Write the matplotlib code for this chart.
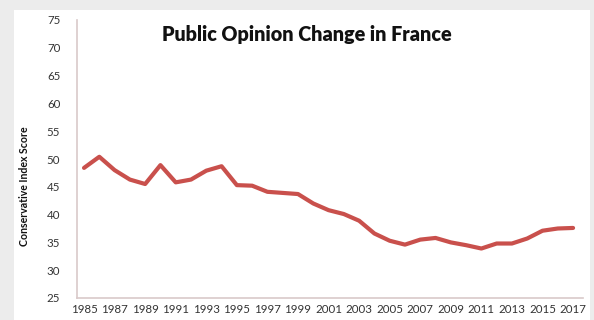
import matplotlib
matplotlib.use("Agg")
import matplotlib.pyplot as plt
from matplotlib.patches import Rectangle

years = list(range(1985, 2018))
scores = [48.4, 50.4, 48.0, 46.3, 45.5, 48.9, 45.8, 46.3, 47.9, 48.7,
          45.3, 45.2, 44.1, 43.9, 43.7, 42.0, 40.8, 40.1, 38.9, 36.6,
          35.3, 34.6, 35.5, 35.8, 35.0, 34.5, 33.9, 34.8, 34.8, 35.7,
          37.1, 37.5, 37.6]
xticks = list(range(1985, 2018, 2))
yticks = list(range(25, 80, 5))

font = ['Lato', 'DejaVu Sans']

fig = plt.figure(figsize=(5.94, 3.20), dpi=100)
fig.patch.set_facecolor('#ececec')
# white panel behind the chart
fig.patches.append(Rectangle((14 / 594, 0), 576 / 594, 1 - 10 / 320,
                             transform=fig.transFigure, facecolor='white',
                             edgecolor='none', zorder=-5))

ax = fig.add_axes([77 / 594, 1 - 298 / 320, 506 / 594, 278 / 320])
ax.set_zorder(2)
ax.set_facecolor('white')
ax.plot(years, scores, color='#c9504c', linewidth=3.0, solid_joinstyle='round',
        solid_capstyle='round')

ax.set_xlim(1984.54, 2017.65)
ax.set_ylim(25, 75)
ax.set_xticks(xticks)
ax.set_yticks(yticks)
ax.tick_params(length=0, labelsize=8.3, labelcolor='#333333')
ax.tick_params(axis='y', pad=12)
ax.tick_params(axis='x', pad=4)
for lab in ax.get_xticklabels() + ax.get_yticklabels():
    lab.set_family(font)

for s in ['top', 'right']:
    ax.spines[s].set_visible(False)
for s in ['left', 'bottom']:
    ax.spines[s].set_color('#d9c9c9')
    ax.spines[s].set_linewidth(1.2)

fig.text(307 / 594, 1 - 35 / 320, 'Public Opinion Change in France',
         ha='center', va='center', fontsize=14.2, fontweight='heavy',
         family=font, color='#111111')
fig.text(24 / 594, 1 - 186 / 320, 'Conservative Index Score', rotation=90,
         ha='center', va='center', fontsize=7.6, fontweight='bold',
         family=font, color='#111111')

fig.savefig('out.png', dpi=100, facecolor=fig.get_facecolor())
